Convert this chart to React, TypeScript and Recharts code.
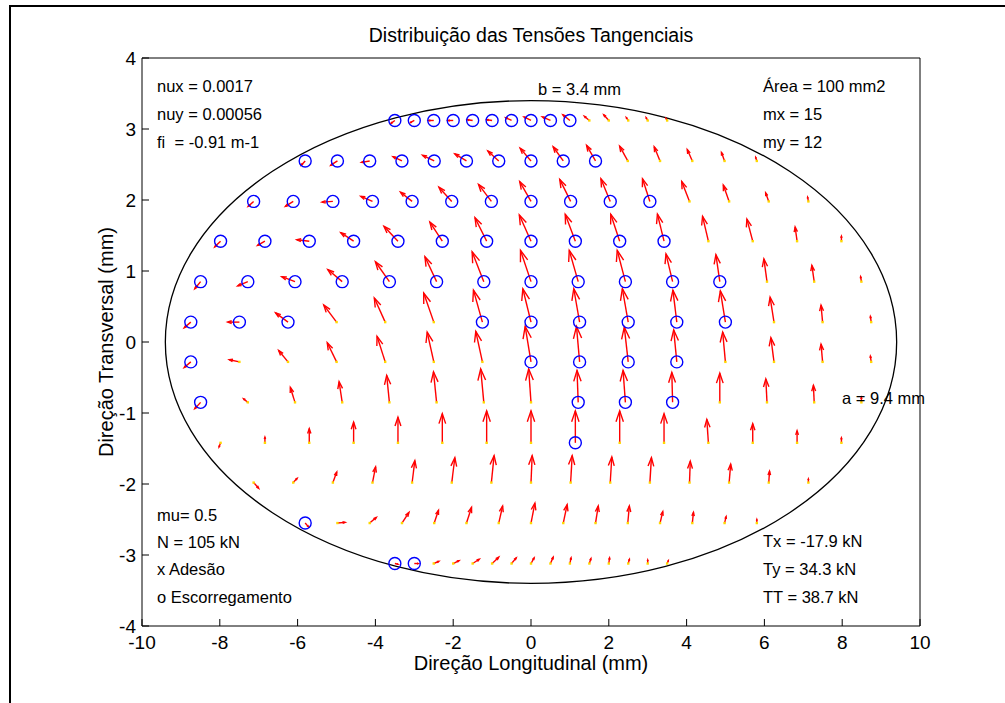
import { ScatterChart, Scatter, XAxis, YAxis, ReferenceLine, ReferenceArea } from 'recharts';

// ---- contact patch (semi-axes in mm) and grid ----
const SEMI_A = 9.4;
const SEMI_B = 3.4;
const MX = 15;

// row centres (mm) top -> bottom, and half-width of each row inside the ellipse
const ROW_Y = [3.12, 2.55, 1.98, 1.42, 0.85, 0.28, -0.28, -0.85, -1.42, -1.98, -2.55, -3.12];
const ROW_HALF_WIDTH = [3.75, 6.22, 7.64, 8.55, 9.1, 9.37, 9.37, 9.1, 8.55, 7.64, 6.22, 3.75];

// tangential stress components per row (quiver units, x 0.01 mm)
const QX = [
  [-10, -10, -13, -13, -13, -13, -15, -18, -21, -18, -13, -13, -5, -4, -3],
  [-10, -17, -21, -23, -30, -30, -28, -28, -26, -23, -21, -15, -13, -8, -3],
  [-14, -20, -28, -30, -30, -33, -33, -29, -28, -24, -19, -20, -15, -8, -2],
  [-15, -19, -32, -33, -36, -32, -30, -30, -26, -23, -17, -15, -15, -5, 0],
  [-15, -26, -34, -37, -36, -30, -30, -27, -23, -21, -17, -10, -8, -6, -2],
  [-17, -30, -32, -33, -28, -26, -23, -21, -15, -15, -10, -13, -10, -4, -2],
  [-17, -26, -24, -24, -21, -17, -17, -15, -8, -10, -8, -7, -8, -4, -2],
  [-15, -11, -12, -8, -7, -8, -8, -6, -3, -6, -2, 0, -3, -2, 0],
  [-4, 0, 0, 0, 0, 0, 0, 0, 0, 0, 0, -4, 0, 0, 0],
  [13, 10, 10, 8, 7, 8, 7, 3, 4, 4, 4, 2, 4, 2, 0],
  [8, 20, 17, 18, 11, 13, 10, 10, 10, 7, 4, 7, 3, 4, 0],
  [8, 10, 13, 15, 17, 17, 12, 8, 7, 3, 4, 2, 3, 0, 3],
];
const QY = [
  [-4, -3, 0, 0, 1, 1, 4, 5, 5, 8, 6, 8, 4, 4, 3],
  [-6, -6, -2, 6, 8, 10, 14, 18, 20, 22, 21, 20, 16, 12, 5],
  [-7, -7, -1, 7, 13, 20, 24, 28, 31, 32, 32, 28, 23, 12, 6],
  [-8, -6, 2, 12, 21, 27, 33, 37, 38, 38, 38, 35, 31, 20, 7],
  [-10, -6, 7, 17, 28, 35, 42, 44, 44, 44, 39, 38, 32, 23, 7],
  [-8, 0, 13, 24, 34, 41, 45, 47, 47, 47, 45, 44, 35, 24, 8],
  [-8, 3, 16, 27, 36, 42, 43, 50, 50, 49, 45, 42, 34, 25, 8],
  [-9, 5, 21, 29, 38, 43, 47, 47, 45, 45, 42, 41, 33, 24, 7],
  [-6, 8, 20, 29, 36, 41, 45, 45, 45, 45, 41, 33, 27, 17, 7],
  [-8, 6, 15, 22, 31, 35, 38, 38, 38, 36, 35, 30, 26, 16, 5],
  [-5, 1, 8, 15, 18, 22, 24, 28, 26, 24, 24, 16, 15, 9, 5],
  [-1, 0, 3, 4, 6, 9, 8, 8, 9, 8, 7, 8, 6, 5, 4],
];
const QUIVER_SCALE = 0.01;

// columns in the slip (escorregamento) zone, per row
const SLIP_COLS = [
  [0, 1, 2, 3, 4, 5, 6, 7, 8, 9],
  [0, 1, 2, 3, 4, 5, 6, 7, 8, 9],
  [0, 1, 2, 3, 4, 5, 6, 7, 8, 9, 10],
  [0, 1, 2, 3, 4, 5, 6, 7, 8, 9, 10],
  [0, 1, 2, 3, 4, 5, 6, 7, 8, 9, 10, 11],
  [0, 1, 2, 6, 7, 8, 9, 10, 11],
  [0, 7, 8, 9, 10],
  [0, 8, 9, 10],
  [8],
  [],
  [0],
  [0, 1],
];

const X_TICKS = [-10, -8, -6, -4, -2, 0, 2, 4, 6, 8, 10];
const Y_TICKS = [-4, -3, -2, -1, 0, 1, 2, 3, 4];

// ---- build points ----
type Pt = { x: number; y: number; u: number; v: number; slip: boolean };

const points: Pt[] = [];
ROW_Y.forEach((y, r) => {
  const hw = ROW_HALF_WIDTH[r];
  for (let c = 0; c < MX; c++) {
    points.push({
      x: -hw + ((c + 0.5) * 2 * hw) / MX,
      y,
      u: QX[r][c] * QUIVER_SCALE,
      v: QY[r][c] * QUIVER_SCALE,
      slip: SLIP_COLS[r].includes(c),
    });
  }
});
const slipPoints = points.filter((p) => p.slip);
const stickPoints = points.filter((p) => !p.slip);

const FONT = '"Liberation Sans", Arial, Helvetica, sans-serif';

function ArrowShape(p: any) {
  const { x1, y1, x2, y2 } = p;
  const dx = x2 - x1;
  const dy = y2 - y1;
  const len = Math.hypot(dx, dy);
  if (!len) return <g />;
  const ux = dx / len;
  const uy = dy / len;
  const hl = 0.34 * len;
  const hw = 0.34 * 0.34 * len;
  const bx = x2 - ux * hl;
  const by = y2 - uy * hl;
  return (
    <g>
      <line x1={x1} y1={y1} x2={x2} y2={y2} stroke="#ff0000" strokeWidth={1.4} />
      <polyline
        points={`${bx - uy * hw},${by + ux * hw} ${x2},${y2} ${bx + uy * hw},${by - ux * hw}`}
        fill="none"
        stroke="#ff0000"
        strokeWidth={1.4}
      />
    </g>
  );
}

function EllipseShape(p: any) {
  const { x, y, width, height } = p;
  return (
    <ellipse
      cx={x + width / 2}
      cy={y + height / 2}
      rx={Math.abs(width) / 2}
      ry={Math.abs(height) / 2}
      fill="none"
      stroke="#000"
      strokeWidth={1.3}
    />
  );
}

const Circle = (p: any) => (
  <circle cx={p.cx} cy={p.cy} r={6} fill="none" stroke="#0000ff" strokeWidth={1.4} />
);
const Dot = (p: any) => <rect x={p.cx - 1.2} y={p.cy - 1.2} width={2.4} height={2.4} fill="#ffd800" />;

type Note = { text: string; x: number; y: number };
const NOTES: Note[] = [
  { text: 'nux = 0.0017', x: 157, y: 86 },
  { text: 'nuy = 0.00056', x: 157, y: 114 },
  { text: 'fi  = -0.91 m-1', x: 157, y: 142 },
  { text: 'b = 3.4 mm', x: 538, y: 89 },
  { text: 'Área = 100 mm2', x: 763, y: 86 },
  { text: 'mx = 15', x: 763, y: 114 },
  { text: 'my = 12', x: 763, y: 142 },
  { text: 'a = 9.4 mm', x: 842, y: 398 },
  { text: 'mu= 0.5', x: 157, y: 515 },
  { text: 'N = 105 kN', x: 157, y: 542 },
  { text: 'x Adesão', x: 157, y: 569 },
  { text: 'o Escorregamento', x: 157, y: 597 },
  { text: 'Tx = -17.9 kN', x: 763, y: 541 },
  { text: 'Ty = 34.3 kN', x: 763, y: 569 },
  { text: 'TT = 38.7 kN', x: 763, y: 597 },
];

export default function App() {
  const tickStyle = { fontSize: 19, fill: '#000', fontFamily: FONT };
  return (
    <div
      style={{
        position: 'absolute',
        left: 0,
        top: 0,
        width: 1005,
        height: 703,
        background: '#fff',
        overflow: 'hidden',
        fontFamily: FONT,
      }}
    >
      <div
        style={{
          position: 'absolute',
          left: 9,
          top: 5,
          width: 1000,
          height: 700,
          borderLeft: '2px solid #000',
          borderTop: '2px solid #000',
        }}
      />
      <ScatterChart width={1005} height={703} margin={{ top: 28, right: 25, bottom: 47, left: 82 }}>
        <XAxis
          type="number"
          dataKey="x"
          domain={[-10, 10]}
          ticks={X_TICKS}
          interval={0}
          allowDataOverflow
          tickSize={-7}
          tickMargin={17}
          tick={tickStyle}
          stroke="#000"
        />
        <XAxis
          xAxisId="top"
          orientation="top"
          type="number"
          dataKey="x"
          domain={[-10, 10]}
          ticks={X_TICKS}
          interval={0}
          allowDataOverflow
          tickSize={-7}
          tick={false}
          stroke="#000"
        />
        <YAxis
          type="number"
          dataKey="y"
          domain={[-4, 4]}
          ticks={Y_TICKS}
          interval={0}
          allowDataOverflow
          tickSize={-7}
          tickMargin={13}
          tick={tickStyle}
          stroke="#000"
        />
        <YAxis
          yAxisId="right"
          orientation="right"
          type="number"
          dataKey="y"
          domain={[-4, 4]}
          ticks={Y_TICKS}
          interval={0}
          allowDataOverflow
          tickSize={-7}
          tick={false}
          stroke="#000"
        />
        <ReferenceArea
          x1={-SEMI_A}
          x2={SEMI_A}
          y1={-SEMI_B}
          y2={SEMI_B}
          ifOverflow="visible"
          shape={EllipseShape}
        />
        <Scatter data={stickPoints} shape={Dot} isAnimationActive={false} />
        {points.map((p, i) => (
          <ReferenceLine
            key={i}
            segment={[
              { x: p.x, y: p.y },
              { x: p.x + p.u, y: p.y + p.v },
            ]}
            ifOverflow="visible"
            shape={ArrowShape}
          />
        ))}
        <Scatter
          data={slipPoints}
          xAxisId="top"
          yAxisId="right"
          shape={Circle}
          isAnimationActive={false}
        />
      </ScatterChart>

      <div
        style={{
          position: 'absolute',
          left: 531,
          top: 35,
          transform: 'translate(-50%, -50%)',
          fontSize: 19.5,
          whiteSpace: 'nowrap',
        }}
      >
        Distribuição das Tensões Tangenciais
      </div>
      <div
        style={{
          position: 'absolute',
          left: 531,
          top: 663,
          transform: 'translate(-50%, -50%)',
          fontSize: 20,
          whiteSpace: 'nowrap',
        }}
      >
        Direção Longitudinal (mm)
      </div>
      <div
        style={{
          position: 'absolute',
          left: 106,
          top: 342,
          transform: 'translate(-50%, -50%) rotate(-90deg)',
          fontSize: 20,
          whiteSpace: 'nowrap',
        }}
      >
        Direção Transversal (mm)
      </div>
      {NOTES.map((n) => (
        <div
          key={n.text}
          style={{
            position: 'absolute',
            left: n.x,
            top: n.y,
            transform: 'translateY(-50%)',
            fontSize: 16.5,
            whiteSpace: 'pre',
            lineHeight: 1,
          }}
        >
          {n.text}
        </div>
      ))}
    </div>
  );
}
